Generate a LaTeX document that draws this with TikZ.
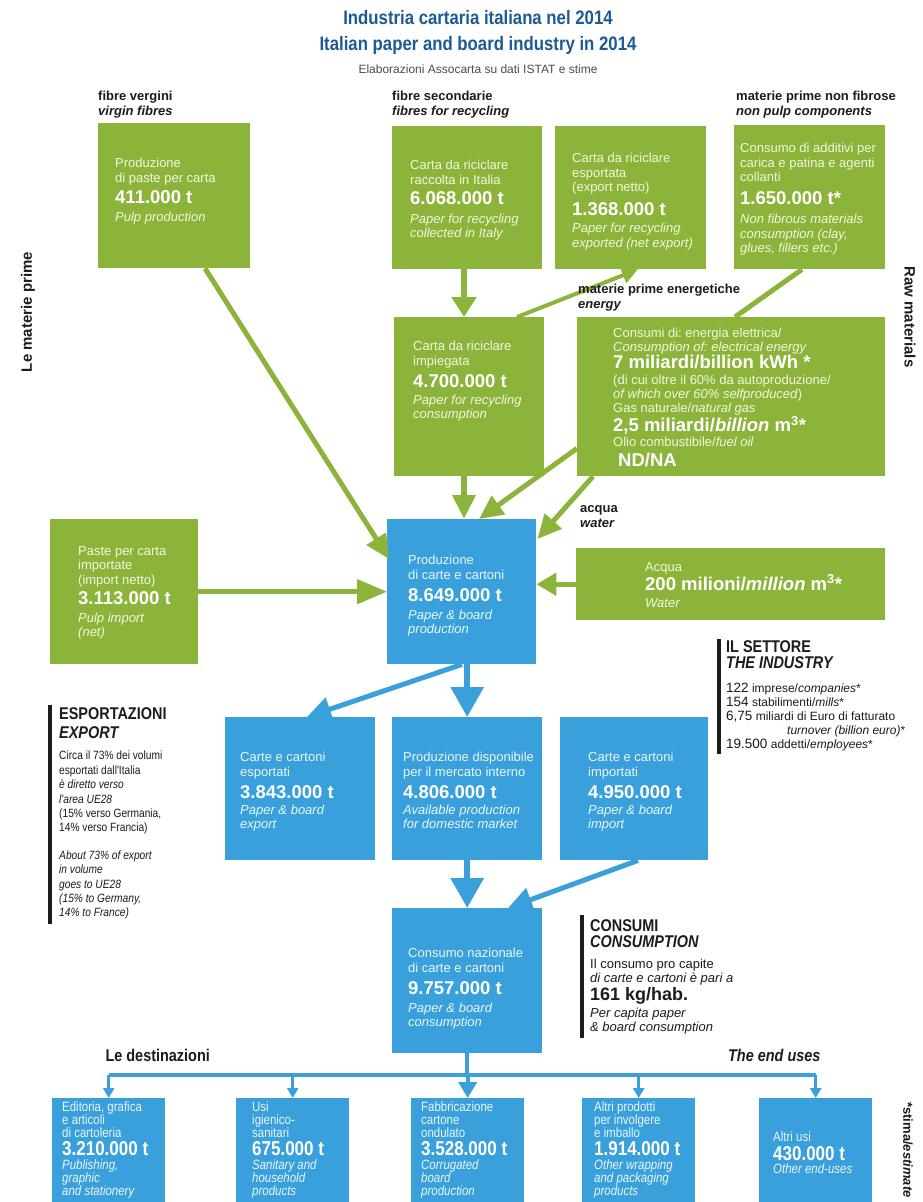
\documentclass[tikz,border=0pt]{standalone}
\usepackage{fontspec}
\setmainfont{Liberation Sans}
\newfontfamily\titlefont{Liberation Sans}[FakeStretch=0.86]
\newfontfamily\narrowfont{Liberation Sans}[FakeStretch=0.85]
\usetikzlibrary{calc,arrows.meta}

\definecolor{pgreen}{RGB}{141,180,58}
\definecolor{pblue}{RGB}{58,160,220}
\definecolor{titleblue}{RGB}{28,90,150}
\definecolor{gtext}{RGB}{242,247,222}
\definecolor{btext}{RGB}{234,245,252}
\definecolor{ink}{RGB}{28,28,28}

\newcommand{\bodyfs}{\fontsize{13}{14.5}\selectfont}
\newcommand{\numfs}{\fontsize{18.5}{20}\selectfont\bfseries\color{white}}
\newcommand{\headfs}{\narrowfont\fontsize{17}{18}\selectfont\bfseries}
\newcommand{\infofs}{\narrowfont\fontsize{12}{14.4}\selectfont}
\newcommand{\usefs}{\narrowfont\fontsize{13.5}{12.8}\selectfont}
\newcommand{\usenum}{\narrowfont\fontsize{20}{20}\selectfont\bfseries\color{white}}
\newcommand{\setnum}[1]{{\fontsize{13.5}{14}\selectfont #1}}

\tikzset{
  gbox/.style={fill=pgreen, anchor=north west, inner sep=0pt},
  bbox/.style={fill=pblue, anchor=north west, inner sep=0pt},
  boxtext/.style={anchor=north west, align=left, inner sep=0pt, font=\bodyfs},
  gtxt/.style={boxtext, text=gtext},
  btxt/.style={boxtext, text=btext},
  usetxt/.style={anchor=north west, align=left, inner sep=0pt, font=\usefs, text=btext},
  heading/.style={anchor=north west, align=left, inner sep=0pt, text=ink,
    font=\fontsize{13}{15}\selectfont\bfseries},
  infotxt/.style={anchor=north west, align=left, inner sep=0pt, text=ink, font=\infofs},
  infobar/.style={draw=ink, line width=4pt},
  garrow/.style={draw=pgreen, line width=5pt, -{Triangle[length=24pt,width=22pt]}},
  gline/.style={draw=pgreen, line width=5pt},
  barrow/.style={draw=pblue, line width=5pt, -{Triangle[length=24pt,width=24pt]}},
  bigbarrow/.style={draw=pblue, line width=6pt, -{Triangle[length=30pt,width=32pt]}},
  bline/.style={draw=pblue, line width=4pt},
  smallarrow/.style={draw=pblue, line width=2.5pt, -{Triangle[length=10pt,width=11pt]}},
}

\begin{document}
\frenchspacing
\begin{tikzpicture}[x=1pt,y=-1pt]
\useasboundingbox (0,0) rectangle (923,1202);
\fill[white] (0,0) rectangle (923,1202);

% title
\node[font=\titlefont\fontsize{19.5}{22}\selectfont\bfseries, text=titleblue] (title1) at (478,18) {Industria cartaria italiana nel 2014};
\node[font=\titlefont\fontsize{19.5}{22}\selectfont\bfseries, text=titleblue] (title2) at (478,45) {Italian paper and board industry in 2014};
\node[font=\fontsize{12}{14}\selectfont, text=black!70] (subtitle) at (478,69) {Elaborazioni Assocarta su dati ISTAT e stime};

% raw materials (green)
\node[gbox, minimum width=152, minimum height=145] (pulp) at (98,123) {};
\node[gbox, minimum width=150, minimum height=143] (collected) at (392,126) {};
\node[gbox, minimum width=151, minimum height=143] (recexp) at (555,126) {};
\node[gbox, minimum width=151, minimum height=144] (additives) at (734,125) {};
\node[gbox, minimum width=150, minimum height=159] (recused) at (394,317) {};
\node[gbox, minimum width=308, minimum height=159] (energy) at (577,317) {};
\node[gbox, minimum width=148, minimum height=145] (pulpimp) at (50,519) {};
\node[gbox, minimum width=309, minimum height=72] (water) at (576,548) {};

% production and market (blue)
\node[bbox, minimum width=149, minimum height=145] (prod) at (387,519) {};
\node[bbox, minimum width=150, minimum height=143] (export) at (225,717) {};
\node[bbox, minimum width=150, minimum height=143] (domestic) at (392,717) {};
\node[bbox, minimum width=148, minimum height=143] (import) at (560,717) {};
\node[bbox, minimum width=150, minimum height=145] (consum) at (392,908) {};
\node[bbox, minimum width=113, minimum height=104] (use1) at (52,1098) {};
\node[bbox, minimum width=113, minimum height=104] (use2) at (236,1098) {};
\node[bbox, minimum width=113, minimum height=104] (use3) at (411,1098) {};
\node[bbox, minimum width=113, minimum height=104] (use4) at (582,1098) {};
\node[bbox, minimum width=113, minimum height=104] (use5) at (759,1098) {};

% box texts
\node[gtxt] (pulp-t) at ($(pulp.north west)+(17,35)$)
  {Produzione\\di paste per carta\\[5pt]{\numfs 411.000 t}\\[3pt]\textit{Pulp production}};
\node[gtxt] (collected-t) at ($(collected.north west)+(18,34)$)
  {Carta da riciclare\\raccolta in Italia\\[6pt]{\numfs 6.068.000 t}\\[4pt]\textit{Paper for recycling}\\\textit{collected in Italy}};
\node[gtxt] (recexp-t) at ($(recexp.north west)+(17,27)$)
  {Carta da riciclare\\esportata\\(export netto)\\[7pt]{\numfs 1.368.000 t}\\[3pt]\textit{Paper for recycling}\\\textit{exported (net export)}};
\node[gtxt] (additives-t) at ($(additives.north west)+(6,18)$)
  {Consumo di additivi per\\carica e patina e agenti\\collanti\\[8pt]{\numfs 1.650.000 t*}\\[5pt]\textit{Non fibrous materials}\\\textit{consumption (clay,}\\\textit{glues, fillers etc.)}};
\node[gtxt] (recused-t) at ($(recused.north west)+(19,24)$)
  {Carta da riciclare\\impiegata\\[6pt]{\numfs 4.700.000 t}\\[2pt]\textit{Paper for recycling}\\\textit{consumption}};
\node[gtxt, font=\fontsize{13}{14}\selectfont] (energy-t) at ($(energy.north west)+(36,11)$)
  {Consumi di: energia elettrica/\\\textit{Consumption of: electrical energy}\\
   {\numfs 7 miliardi/billion kWh *}\\[2pt]
   (di cui oltre il 60\% da autoproduzione/\\\textit{of which over 60\% selfproduced})\\
   Gas naturale/\textit{natural gas}\\
   {\numfs 2,5 miliardi/\textit{billion} m\textsuperscript{3}*}\\[1pt]
   Olio combustibile/\textit{fuel oil}\\[6pt]
   \hspace*{5pt}{\numfs ND/NA}};
\node[gtxt] (pulpimp-t) at ($(pulpimp.north west)+(28,27)$)
  {Paste per carta\\importate\\(import netto)\\[4pt]{\numfs 3.113.000 t}\\[3pt]\textit{Pulp import}\\\textit{(net)}};
\node[gtxt] (water-t) at ($(water.north west)+(69,14)$)
  {Acqua\\{\numfs 200 milioni/\textit{million} m\textsuperscript{3}*}\\[3pt]\textit{Water}};
\node[btxt] (prod-t) at ($(prod.north west)+(21,36)$)
  {Produzione\\di carte e cartoni\\[8pt]{\numfs 8.649.000 t}\\[3pt]\textit{Paper \& board}\\\textit{production}};
\node[btxt] (export-t) at ($(export.north west)+(15,35)$)
  {Carte e cartoni\\esportati\\[6pt]{\numfs 3.843.000 t}\\[1pt]\textit{Paper \& board}\\\textit{export}};
\node[btxt] (domestic-t) at ($(domestic.north west)+(11,35)$)
  {Produzione disponibile\\per il mercato interno\\[6pt]{\numfs 4.806.000 t}\\[1pt]\textit{Available production}\\\textit{for domestic market}};
\node[btxt] (import-t) at ($(import.north west)+(28,35)$)
  {Carte e cartoni\\importati\\[6pt]{\numfs 4.950.000 t}\\[1pt]\textit{Paper \& board}\\\textit{import}};
\node[btxt] (consum-t) at ($(consum.north west)+(16,40)$)
  {Consumo nazionale\\di carte e cartoni\\[8pt]{\numfs 9.757.000 t}\\[3pt]\textit{Paper \& board}\\\textit{consumption}};
\node[usetxt] (use1-t) at ($(use1.north west)+(10,4)$)
  {Editoria, grafica\\e articoli\\di cartoleria\\[3pt]{\usenum 3.210.000 t}\\[1pt]\textit{Publishing,}\\\textit{graphic}\\\textit{and stationery}};
\node[usetxt] (use2-t) at ($(use2.north west)+(16,4)$)
  {Usi\\igienico-\\sanitari\\[3pt]{\usenum 675.000 t}\\[1pt]\textit{Sanitary and}\\\textit{household}\\\textit{products}};
\node[usetxt] (use3-t) at ($(use3.north west)+(10,4)$)
  {Fabbricazione\\cartone\\ondulato\\[3pt]{\usenum 3.528.000 t}\\[1pt]\textit{Corrugated}\\\textit{board}\\\textit{production}};
\node[usetxt] (use4-t) at ($(use4.north west)+(12,4)$)
  {Altri prodotti\\per involgere\\e imballo\\[3pt]{\usenum 1.914.000 t}\\[1pt]\textit{Other wrapping}\\\textit{and packaging}\\\textit{products}};
\node[usetxt] (use5-t) at ($(use5.north west)+(14,34)$)
  {Altri usi\\[3pt]{\usenum 430.000 t}\\[1pt]\textit{Other end-uses}};

% green flows
\draw[garrow] ($(pulp.south west)+(107,0)$) -- ($(prod.north west)+(2,40)$);
\draw[garrow, line width=6pt, -{Triangle[length=20pt,width=24pt]}] ($(collected.south west)+(72,0)$) -- ($(recused.north west)+(70,0)$);
\draw[garrow, line width=4pt, -{Triangle[length=16pt,width=16pt]}] ($(recused.north west)+(123,0)$) -- ($(recexp.south west)+(83,0)$);
\draw[gline] ($(additives.south west)+(68,0)$) -- ($(energy.north west)+(158,0)$);
\draw[garrow, line width=6pt] ($(recused.south west)+(70,0)$) -- ($(prod.north west)+(77,0)$);
\draw[garrow] ($(energy.south west)+(0,-28)$) -- ($(prod.north west)+(92,0)$);
\draw[garrow] ($(energy.south west)+(16,0)$) -- ($(prod.north east)+(1,20)$);
\draw[garrow, -{Triangle[length=30pt,width=24pt]}] (pulpimp.east) -- (pulpimp.east -| prod.west);
\draw[garrow, -{Triangle[length=20pt,width=22pt]}] (water.west) -- (water.west -| prod.east);

% blue flows
\draw[bigbarrow] (domestic.north |- prod.south) -- (domestic.north);
\draw[barrow] ($(prod.south west)+(75,0)$) -- ($(export.north west)+(82,0)$);
\draw[bigbarrow] (domestic.south) -- (consum.north);
\draw[barrow] ($(import.south west)+(78,0)$) -- ($(consum.north west)+(116,0)$);

% end uses
\coordinate (hub) at ($(consum.south)+(0,22)$);
\draw[bline] (consum.south) -- (hub);
\draw[bline] (hub -| use1.north) -- (hub -| use5.north);
\foreach \u in {use1,use2,use4,use5}
  \draw[smallarrow] (hub -| \u.north) -- (\u.north);
\draw[bline, -{Triangle[length=16pt,width=18pt]}] (hub -| use3.north) -- (use3.north);

% group labels
\node[heading] (virgin) at (98,91) {fibre vergini\\\textit{virgin fibres}};
\node[heading] (secondary) at (392,91) {fibre secondarie\\\textit{fibres for recycling}};
\node[heading] (nonpulp) at (736,91) {materie prime non fibrose\\\textit{non pulp components}};
\node[heading] (energylab) at (578,284) {materie prime energetiche\\\textit{energy}};
\node[heading] (waterlab) at (580,505) {acqua\\\textit{water}};
\node[font=\fontsize{15}{17}\selectfont\bfseries, text=ink, rotate=90] (rawit) at (28,312) {Le materie prime};
\node[font=\fontsize{15}{17}\selectfont\bfseries, text=ink, rotate=-90] (rawen) at (910,317) {Raw materials};
\node[font=\fontsize{13}{15}\selectfont\bfseries, text=ink, rotate=-90] (estimate) at (908,1150) {*stima/\textit{estimate}};
\node[font=\narrowfont\fontsize{17}{19}\selectfont\bfseries, text=ink, anchor=west] (destit) at (102,1055) {Le destinazioni};
\node[font=\narrowfont\fontsize{17}{19}\selectfont\bfseries\itshape, text=ink, anchor=east] (desten) at (824,1055) {The end uses};

% side notes
\node[infotxt] (exportnote) at (59,707)
  {{\headfs ESPORTAZIONI}\\[5pt]{\headfs\itshape EXPORT}\\[7pt]
   Circa il 73\% dei volumi\\esportati dall'Italia\\\textit{è diretto verso}\\\textit{l'area UE28}\\
   (15\% verso Germania,\\14\% verso Francia)\\[13pt]
   \textit{About 73\% of export}\\\textit{in volume}\\\textit{goes to UE28}\\
   \textit{(15\% to Germany,}\\\textit{14\% to France)}};
\draw[infobar] ($(exportnote.north west)+(-9,-2)$) -- ($(exportnote.south west)+(-9,4)$);
\node[infotxt, font=\fontsize{12}{14}\selectfont] (industry) at (726,640)
  {{\headfs IL SETTORE}\\[2pt]{\headfs\itshape THE INDUSTRY}\\[10pt]
   \setnum{122} imprese/\textit{companies}*\\
   \setnum{154} stabilimenti/\textit{mills}*\\
   \setnum{6,75} miliardi di Euro di fatturato\\
   \hspace*{61pt}\textit{turnover (billion euro)}*\\
   \setnum{19.500} addetti/\textit{employees}*};
\draw[infobar] ($(industry.north west)+(-7,-1)$) -- ($(industry.south west)+(-7,3)$);
\node[infotxt, font=\fontsize{13}{14}\selectfont] (consnote) at (590,919)
  {{\headfs CONSUMI}\\[2pt]{\headfs\itshape CONSUMPTION}\\[7pt]
   Il consumo pro capite\\\textit{di carte e cartoni è pari a}\\[2pt]
   {\fontsize{18}{20}\selectfont\bfseries 161 kg/hab.}\\[3pt]
   \textit{Per capita paper}\\\textit{\& board consumption}};
\draw[infobar] ($(consnote.north west)+(-8,-4)$) -- ($(consnote.south west)+(-8,3)$);
\end{tikzpicture}
\end{document}
